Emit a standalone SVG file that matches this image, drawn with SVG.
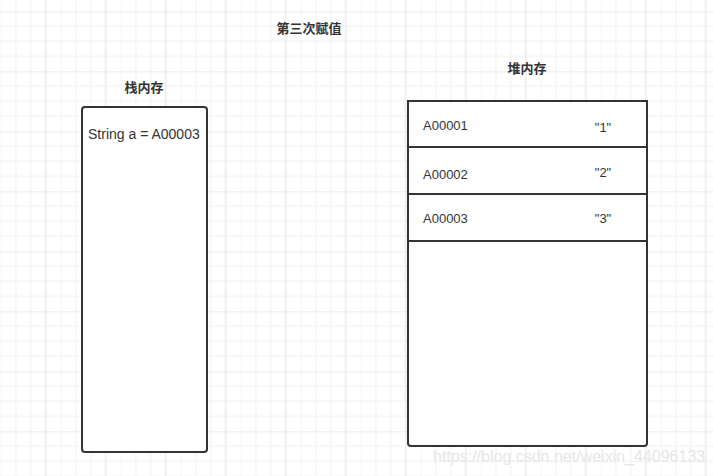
<svg xmlns="http://www.w3.org/2000/svg" width="713" height="476" viewBox="0 0 713 476">
  <defs>
    <pattern id="grid" x="0.7" y="11.3" width="60" height="60" patternUnits="userSpaceOnUse">
      <path d="M15 0V60M30 0V60M0 15H60M0 30H60M0 45H60" stroke="#f0f0f0" stroke-width="1" fill="none"/>
      <path d="M0 0V60M0 0H60" stroke="#f0f0f0" stroke-width="1" fill="none"/>
      <path d="M45 0V60" stroke="#e0e0e0" stroke-width="1" fill="none"/>
      <path d="M0 0H60" stroke="#e0e0e0" stroke-width="1" fill="none"/>
    </pattern>
  </defs>
  <style>
    .box { fill: #ffffff; stroke: #333333; stroke-width: 2; }
    .line { stroke: #333333; stroke-width: 2; fill: none; }
    .title { font-family: "Noto Sans CJK SC", "Liberation Sans", sans-serif; font-size: 13px; font-weight: bold; fill: #333333; }
    .txt { font-family: "Liberation Sans", "Noto Sans", sans-serif; fill: #333333; }
    .wm { font-family: "Liberation Sans", sans-serif; font-size: 16px; fill: #e6e6e6; }
  </style>
  <rect width="713" height="476" fill="#ffffff"/>
  <rect width="713" height="476" fill="url(#grid)"/>

  <g id="title">
    <text class="title" x="309" y="33" text-anchor="middle">第三次赋值</text>
  </g>

  <g id="stack">
    <text class="title" x="144" y="92" text-anchor="middle">栈内存</text>
    <rect class="box" x="82" y="107" width="125" height="345" rx="3" ry="3"/>
    <text class="txt" x="88" y="139" font-size="14">String a = A00003</text>
  </g>

  <g id="heap">
    <text class="title" x="527" y="73" text-anchor="middle">堆内存</text>
    <path class="box" d="M408 101H647V443Q647 446 644 446H411Q408 446 408 443Z"/>
    <path class="line" d="M408 147H647M408 194H647M408 241H647"/>
  </g>

  <g id="row1">
    <text class="txt" x="423" y="130" font-size="13">A00001</text>
    <text class="txt" x="603" y="132" font-size="13" text-anchor="middle">"1"</text>
  </g>
  <g id="row2">
    <text class="txt" x="423" y="179" font-size="13">A00002</text>
    <text class="txt" x="603" y="177" font-size="13" text-anchor="middle">"2"</text>
  </g>
  <g id="row3">
    <text class="txt" x="423" y="223" font-size="13">A00003</text>
    <text class="txt" x="603" y="223" font-size="13" text-anchor="middle">"3"</text>
  </g>

  <g id="connectors"></g>

  <text class="wm" x="433" y="462">https://blog.csdn.net/weixin_44096133</text>
</svg>
